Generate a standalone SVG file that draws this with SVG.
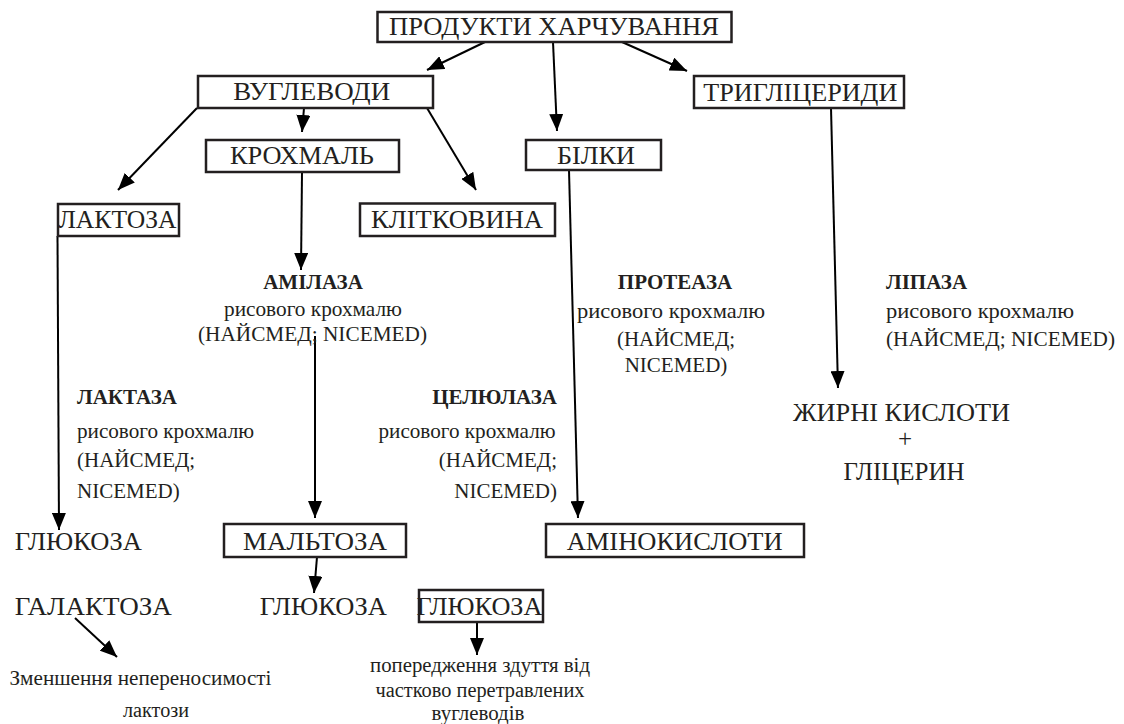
<svg xmlns="http://www.w3.org/2000/svg" width="1124" height="724" viewBox="0 0 1124 724">
<defs>
<marker id="ah" markerUnits="userSpaceOnUse" markerWidth="17" markerHeight="14" refX="17" refY="7" orient="auto">
<path d="M0,0 L17,7 L0,14 z" fill="#000"/>
</marker>
<style>
.box{fill:#fff;stroke:#231f20;stroke-width:2.5}
.big{font-family:"Liberation Serif","Times New Roman",serif;font-size:25px;fill:#231f20}
.sm{font-family:"Liberation Serif","Times New Roman",serif;font-size:21px;fill:#231f20}
.xs{font-family:"Liberation Serif","Times New Roman",serif;font-size:20px;fill:#231f20}
.b{font-weight:bold}
.mid{text-anchor:middle}
.end{text-anchor:end}
.con line{stroke:#000;stroke-width:2;marker-end:url(#ah)}
</style>
</defs>
<rect width="1124" height="724" fill="#fff"/>

<g id="connectors" class="con">
<line x1="485" y1="42" x2="427" y2="70"/>
<line x1="553" y1="42" x2="557" y2="131"/>
<line x1="622" y1="42" x2="687" y2="71"/>
<line x1="304" y1="108" x2="302" y2="132"/>
<line x1="197" y1="108" x2="118" y2="190"/>
<line x1="427" y1="108" x2="476" y2="190"/>
<line x1="57.5" y1="236" x2="59" y2="530"/>
<line x1="302" y1="172" x2="301" y2="270"/>
<line x1="315" y1="336" x2="315" y2="518"/>
<line x1="317" y1="557" x2="314" y2="593"/>
<line x1="569" y1="170" x2="578" y2="518"/>
<line x1="831" y1="108" x2="838" y2="388"/>
<line x1="75" y1="618" x2="117" y2="657"/>
<line x1="477" y1="618" x2="477" y2="655"/>
</g>

<g id="n-produkty">
<rect class="box" x="377.5" y="12" width="354" height="30"/>
<text class="big mid" x="554" y="35" textLength="330" lengthAdjust="spacingAndGlyphs">ПРОДУКТИ ХАРЧУВАННЯ</text>
</g>
<g id="n-vuglevody">
<rect class="box" x="198" y="76" width="235" height="32"/>
<text class="big mid" x="311.7" y="100" textLength="157" lengthAdjust="spacingAndGlyphs">ВУГЛЕВОДИ</text>
</g>
<g id="n-tryglitserydy">
<rect class="box" x="694" y="76" width="210" height="32"/>
<text class="big mid" x="800.3" y="100.5" textLength="194" lengthAdjust="spacingAndGlyphs">ТРИГЛІЦЕРИДИ</text>
</g>
<g id="n-krokhmal">
<rect class="box" x="206" y="140" width="193" height="32"/>
<text class="big mid" x="302" y="164" textLength="144" lengthAdjust="spacingAndGlyphs">КРОХМАЛЬ</text>
</g>
<g id="n-bilky">
<rect class="box" x="526" y="140" width="135" height="30"/>
<text class="big mid" x="596" y="164" textLength="78" lengthAdjust="spacingAndGlyphs">БІЛКИ</text>
</g>
<g id="n-laktoza">
<rect class="box" x="58" y="204" width="121" height="32"/>
<text class="big mid" x="117.5" y="228.3" textLength="118" lengthAdjust="spacingAndGlyphs">ЛАКТОЗА</text>
</g>
<g id="n-klitkovyna">
<rect class="box" x="360" y="203.5" width="195" height="32.5"/>
<text class="big mid" x="457" y="228" textLength="172" lengthAdjust="spacingAndGlyphs">КЛІТКОВИНА</text>
</g>

<g id="e-amilaza">
<text class="sm b mid" x="313" y="289">АМІЛАЗА</text>
<text class="sm mid" x="313" y="316" textLength="178" lengthAdjust="spacingAndGlyphs">рисового крохмалю</text>
<text class="sm mid" x="312.5" y="341" textLength="229" lengthAdjust="spacingAndGlyphs">(НАЙСМЕД; NICEMED)</text>
</g>
<g id="e-laktaza">
<text class="sm b" x="77" y="403.6">ЛАКТАЗА</text>
<text class="sm" x="77" y="437.5" textLength="177" lengthAdjust="spacingAndGlyphs">рисового крохмалю</text>
<text class="sm" x="77" y="467">(НАЙСМЕД;</text>
<text class="sm" x="77" y="497.5">NICEMED)</text>
</g>
<g id="e-tseliulaza">
<text class="sm b end" x="557" y="403.6">ЦЕЛЮЛАЗА</text>
<text class="sm end" x="555.5" y="437.5" textLength="177" lengthAdjust="spacingAndGlyphs">рисового крохмалю</text>
<text class="sm end" x="557" y="467">(НАЙСМЕД;</text>
<text class="sm end" x="557" y="497.5">NICEMED)</text>
</g>
<g id="e-proteaza">
<text class="sm b mid" x="675" y="289">ПРОТЕАЗА</text>
<text class="sm mid" x="671" y="318" textLength="188" lengthAdjust="spacingAndGlyphs">рисового крохмалю</text>
<text class="sm mid" x="676" y="346">(НАЙСМЕД;</text>
<text class="sm mid" x="676" y="372">NICEMED)</text>
</g>
<g id="e-lipaza">
<text class="sm b" x="886" y="289">ЛІПАЗА</text>
<text class="sm" x="886" y="318" textLength="188" lengthAdjust="spacingAndGlyphs">рисового крохмалю</text>
<text class="sm" x="886" y="346" textLength="229" lengthAdjust="spacingAndGlyphs">(НАЙСМЕД; NICEMED)</text>
</g>

<g id="n-zhyrni">
<text class="big mid" x="901.5" y="421" textLength="217" lengthAdjust="spacingAndGlyphs">ЖИРНІ КИСЛОТИ</text>
<text class="big mid" x="905" y="447">+</text>
<text class="big mid" x="904" y="480" textLength="121" lengthAdjust="spacingAndGlyphs">ГЛІЦЕРИН</text>
</g>

<g id="n-glukoza1">
<text class="big mid" x="78.3" y="550" textLength="127" lengthAdjust="spacingAndGlyphs">ГЛЮКОЗА</text>
</g>
<g id="n-maltoza">
<rect class="box" x="224" y="524" width="182" height="33"/>
<text class="big mid" x="315" y="550" textLength="144" lengthAdjust="spacingAndGlyphs">МАЛЬТОЗА</text>
</g>
<g id="n-aminokysloty">
<rect class="box" x="546" y="524" width="258" height="33"/>
<text class="big mid" x="674.7" y="550" textLength="216" lengthAdjust="spacingAndGlyphs">АМІНОКИСЛОТИ</text>
</g>
<g id="n-galaktoza">
<text class="big mid" x="93.3" y="615" textLength="157" lengthAdjust="spacingAndGlyphs">ГАЛАКТОЗА</text>
</g>
<g id="n-glukoza2">
<text class="big mid" x="323.3" y="615" textLength="127" lengthAdjust="spacingAndGlyphs">ГЛЮКОЗА</text>
</g>
<g id="n-glukoza3">
<rect class="box" x="419" y="590" width="124" height="32"/>
<text class="big mid" x="479.5" y="615" textLength="126" lengthAdjust="spacingAndGlyphs">ГЛЮКОЗА</text>
</g>
<g id="n-zmenshennia">
<text class="xs mid" x="140.5" y="685" textLength="262" lengthAdjust="spacingAndGlyphs">Зменшення непереносимості</text>
<text class="xs mid" x="156" y="716.5" textLength="66" lengthAdjust="spacingAndGlyphs">лактози</text>
</g>
<g id="n-poperedzhennia">
<text class="xs mid" x="480" y="671.7" textLength="220" lengthAdjust="spacingAndGlyphs">попередження здуття від</text>
<text class="xs mid" x="480" y="696.7" textLength="209" lengthAdjust="spacingAndGlyphs">частково перетравлених</text>
<text class="xs mid" x="478" y="720" textLength="93" lengthAdjust="spacingAndGlyphs">вуглеводів</text>
</g>
</svg>
